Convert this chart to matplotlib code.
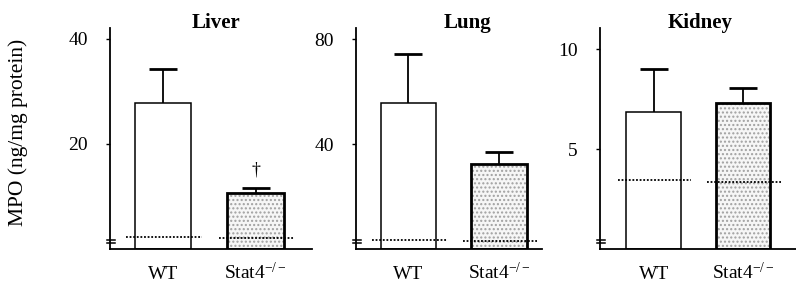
import matplotlib
matplotlib.use('Agg')
import matplotlib.pyplot as plt

plt.rcParams['font.family'] = ['Liberation Serif', 'DejaVu Serif']
plt.rcParams['mathtext.fontset'] = 'custom'
plt.rcParams['mathtext.rm'] = 'Liberation Serif'
plt.rcParams['mathtext.it'] = 'Liberation Serif:italic'
plt.rcParams['mathtext.bf'] = 'Liberation Serif:bold'

# data
organs = ['Liver', 'Lung', 'Kidney']
groups = ['WT', r'Stat4$^{-/-}$']
liver_mean = [27.7, 10.7]
liver_err = [6.5, 0.8]
lung_mean = [55.6, 32.4]
lung_err = [18.7, 4.6]
kidney_mean = [6.85, 7.3]
kidney_err = [2.15, 0.75]
liver_ctrl = [2.2, 2.1]
lung_ctrl = [3.4, 3.2]
kidney_ctrl = [3.45, 3.35]
liver_ticks = [20, 40]
lung_ticks = [40, 80]
kidney_ticks = [5, 10]
liver_marks = ['', '†']

means = [liver_mean, lung_mean, kidney_mean]
errs = [liver_err, lung_err, kidney_err]
ctrls = [liver_ctrl, lung_ctrl, kidney_ctrl]
ticks = [liver_ticks, lung_ticks, kidney_ticks]
marks = [liver_marks, ['', ''], ['', '']]

W, H = 796, 283
fig = plt.figure(figsize=(W / 100, H / 100), dpi=100)

# axes rectangles in pixels: left, right ; top/bottom shared
rects = [(110, 312), (356, 542), (600, 796)]
ytops = [42.0, 84.2, 11.05]
xlims = [(-0.573, 1.61), (-0.58, 1.475), (-0.60, 1.59)]
title_x = [0.527, 0.597, 0.51]
top_px, bot_px = 28, 249

for i in range(3):
    l, r = rects[i]
    ax = fig.add_axes([l / W, (H - bot_px) / H, (r - l) / W, (bot_px - top_px) / H])
    x = [0, 1]
    ax.bar(x[0], means[i][0], width=0.61, color='white', edgecolor='black', lw=1.1)
    ax.bar(x[1], means[i][1], width=0.61, color='#f6f6f6', edgecolor='#a0a0a0',
           hatch='....', lw=0)
    ax.bar(x[1], means[i][1], width=0.61, fill=False, edgecolor='black', lw=2)
    tops = [means[i][j] + errs[i][j] for j in range(2)]
    ax.vlines(x, means[i], tops, colors='black', lw=1.3)
    ax.plot(x, tops, ls='none', marker='_', ms=20, mew=2, color='black')
    for j in range(2):
        ax.hlines(ctrls[i][j], x[j] - 0.4, x[j] + 0.42, colors='black',
                  linestyles=(0, (1, 1)), lw=1.3)
        if marks[i][j]:
            ax.annotate(marks[i][j], (x[j], tops[j]),
                        xytext=(0, 7), textcoords='offset points',
                        ha='center', va='bottom', fontsize=13)
    ax.set_xlim(*xlims[i])
    ax.set_ylim(0, ytops[i])
    ax.set_yticks(ticks[i])
    ax.set_xticks(x)
    ax.set_xticklabels(groups, fontsize=14)
    for lbl in ax.get_xticklabels():
        lbl.set_va('baseline')
    ax.tick_params(axis='x', length=0, pad=21.5)
    ax.tick_params(axis='y', length=3, width=1, pad=13, labelsize=14)
    for s in ['top', 'right']:
        ax.spines[s].set_visible(False)
    ax.spines['left'].set_linewidth(1.3)
    ax.spines['bottom'].set_linewidth(1.3)
    # axis break marks
    w = r - l
    hh = bot_px - top_px
    for yy in [240, 243]:
        ax.plot([-3 / w, 5 / w], [(bot_px - yy) / hh] * 2, color='black', lw=1.1,
                transform=ax.transAxes, clip_on=False)
    ax.text(title_x[i], 1.0, organs[i], transform=ax.transAxes, ha='center',
            va='baseline', fontsize=15, fontweight='bold')

fig.text(18 / W, 1 - 132 / H, 'MPO (ng/mg protein)', rotation=90, ha='center',
         va='center', fontsize=15.5)

fig.savefig('out.png', dpi=100)
